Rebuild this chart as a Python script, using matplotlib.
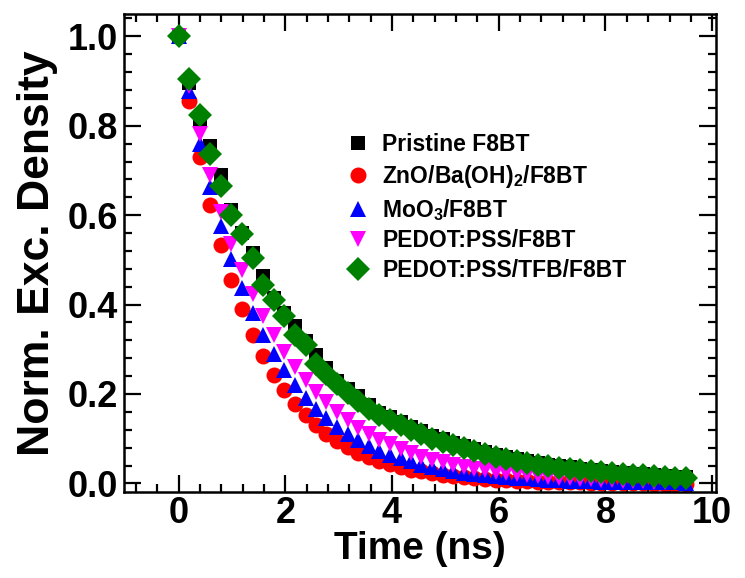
import matplotlib
matplotlib.use("Agg")
import matplotlib.pyplot as plt
from matplotlib.ticker import MultipleLocator, AutoMinorLocator

plt.rcParams['font.family'] = ['Liberation Sans', 'DejaVu Sans']
plt.rcParams['font.weight'] = 'bold'
plt.rcParams['mathtext.fontset'] = 'custom'
plt.rcParams['mathtext.rm'] = 'Liberation Sans:bold'
plt.rcParams['mathtext.bf'] = 'Liberation Sans:bold'
plt.rcParams['mathtext.default'] = 'bf'

# time axis (ns)
time = [0.00, 0.20, 0.40, 0.59, 0.79, 0.99, 1.19, 1.39, 1.58, 1.78,
        1.98, 2.18, 2.38, 2.57, 2.77, 2.97, 3.17, 3.37, 3.56, 3.76,
        3.96, 4.16, 4.36, 4.55, 4.75, 4.95, 5.15, 5.35, 5.54, 5.74,
        5.94, 6.14, 6.34, 6.53, 6.73, 6.93, 7.13, 7.33, 7.52, 7.72,
        7.92, 8.12, 8.32, 8.51, 8.71, 8.91, 9.11, 9.31, 9.50]

pristine = [1.0, 0.895, 0.810, 0.755, 0.690, 0.612, 0.560, 0.515, 0.463, 0.414,
            0.382, 0.351, 0.318, 0.287, 0.258, 0.230, 0.212, 0.195, 0.176, 0.158,
            0.148, 0.138, 0.127, 0.117, 0.107, 0.099, 0.091, 0.083, 0.076, 0.070,
            0.064, 0.059, 0.054, 0.050, 0.046, 0.042, 0.039, 0.036, 0.033, 0.030,
            0.028, 0.026, 0.024, 0.022, 0.020, 0.018, 0.017, 0.015, 0.014]

zno = [1.0, 0.855, 0.731, 0.623, 0.533, 0.456, 0.389, 0.333, 0.285, 0.243,
       0.208, 0.178, 0.152, 0.130, 0.111, 0.095, 0.081, 0.069, 0.059, 0.050,
       0.043, 0.037, 0.031, 0.027, 0.023, 0.019, 0.016, 0.014, 0.012, 0.010,
       0.008, 0.007, 0.006, 0.005, 0.004, 0.003, 0.003, 0.002, 0.002, 0.001,
       0.001, 0.001, 0.000, 0.000, 0.000, -0.001, -0.001, -0.001, -0.001]

moo3 = [1.0, 0.878, 0.760, 0.662, 0.576, 0.502, 0.438, 0.382, 0.333, 0.290,
        0.253, 0.220, 0.192, 0.167, 0.146, 0.127, 0.111, 0.097, 0.084, 0.073,
        0.064, 0.056, 0.049, 0.042, 0.037, 0.032, 0.028, 0.024, 0.021, 0.018,
        0.016, 0.014, 0.012, 0.011, 0.009, 0.008, 0.007, 0.006, 0.005, 0.005,
        0.004, 0.004, 0.003, 0.003, 0.002, 0.002, 0.002, 0.002, 0.001]

pedot = [1.0, 0.890, 0.782, 0.690, 0.608, 0.535, 0.478, 0.424, 0.375, 0.332,
         0.295, 0.261, 0.231, 0.204, 0.181, 0.160, 0.142, 0.125, 0.111, 0.098,
         0.087, 0.077, 0.068, 0.060, 0.053, 0.047, 0.042, 0.037, 0.033, 0.029,
         0.026, 0.023, 0.020, 0.018, 0.016, 0.014, 0.012, 0.011, 0.010, 0.009,
         0.008, 0.007, 0.006, 0.005, 0.005, 0.004, 0.004, 0.003, 0.003]

pedot_tfb = [1.0, 0.904, 0.824, 0.737, 0.666, 0.601, 0.558, 0.504, 0.444, 0.410,
             0.375, 0.332, 0.310, 0.268, 0.245, 0.222, 0.202, 0.184, 0.166, 0.152,
             0.142, 0.131, 0.120, 0.110, 0.100, 0.093, 0.086, 0.079, 0.072, 0.066,
             0.060, 0.055, 0.050, 0.046, 0.042, 0.038, 0.035, 0.032, 0.029, 0.027,
             0.025, 0.023, 0.021, 0.019, 0.018, 0.016, 0.015, 0.013, 0.012]

labels = ['Pristine F8BT', r'ZnO/Ba(OH)$_2$/F8BT', r'MoO$_3$/F8BT',
          'PEDOT:PSS/F8BT', 'PEDOT:PSS/TFB/F8BT']

fig = plt.figure(figsize=(7.45, 5.78), dpi=100)
ax = fig.add_axes([0.166, 0.149, 0.795, 0.826])

series = [
    (pristine, 's', 'black', 10),
    (zno, 'o', '#ff0000', 11.5),
    (moo3, '^', '#0000ff', 12),
    (pedot, 'v', '#ff00ff', 12),
    (pedot_tfb, 'D', '#008000', 12),
]
for (vals, mk, col, ms), lab in zip(series, labels):
    ax.plot(time, vals, linestyle='none', marker=mk, color=col,
            markersize=ms, markeredgewidth=0, label=lab)

ax.set_xlim(-1.03, 10.07)
ax.set_ylim(-0.019, 1.049)
ax.xaxis.set_major_locator(MultipleLocator(2))
ax.xaxis.set_minor_locator(AutoMinorLocator(5))
ax.yaxis.set_major_locator(MultipleLocator(0.2))
ax.yaxis.set_minor_locator(AutoMinorLocator(5))
ax.yaxis.set_major_formatter(matplotlib.ticker.FormatStrFormatter('%.1f'))

ax.tick_params(which='both', direction='in', top=True, right=True, width=1.6)
ax.tick_params(which='major', length=12, labelsize=26)
ax.tick_params(axis='x', which='major', pad=3)
ax.tick_params(axis='y', which='major', pad=4)
ax.tick_params(which='minor', length=6)
for sp in ax.spines.values():
    sp.set_linewidth(1.8)

ax.set_xlabel('Time (ns)', fontsize=28, fontweight='bold', labelpad=0)
ax.set_ylabel('Norm. Exc. Density', fontsize=32, fontweight='bold', labelpad=7)

ax.legend(loc='upper left', bbox_to_anchor=(0.377, 0.752), frameon=False,
          prop={'weight': 'bold', 'size': 16.5},
          handlelength=1.0, handletextpad=0.55, labelspacing=0.3,
          borderpad=0, borderaxespad=0)

fig.savefig('out.png', dpi=100)
